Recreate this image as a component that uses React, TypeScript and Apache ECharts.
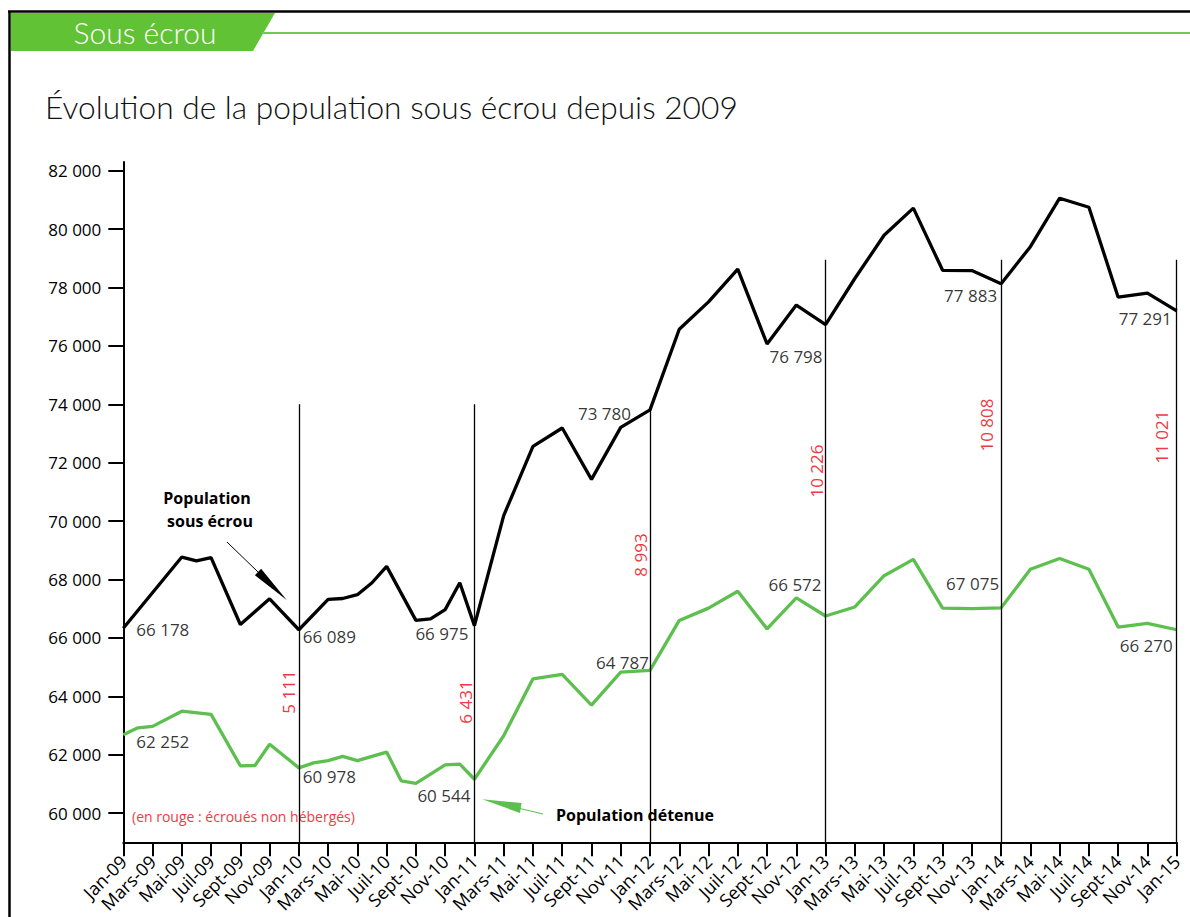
import React, { useEffect, useRef } from "react";
import * as echarts from "echarts";

// ---------- DATA ----------
const MONTH_NAMES = ["Jan", "Févr", "Mars", "Avr", "Mai", "Juin", "Juil", "Août", "Sept", "Oct", "Nov", "Déc"];
const YEARS = ["09", "10", "11", "12", "13", "14", "15"];
const months: string[] = [];
YEARS.forEach((y, yi) => {
  MONTH_NAMES.forEach((m, mi) => {
    if (yi === YEARS.length - 1 && mi > 0) return;
    months.push(`${m}-${y}`);
  });
});

// Population sous écrou (black), monthly, null where no vertex is drawn
const ecrouValues: (number | null)[] = [
  66330, null, null, null, 68770, 68640, 68750, null, 66460, null, 67340, null,
  66280, null, 67320, 67350, 67480, 67890, 68450, null, 66600, 66650, 66970, 67890,
  66420, null, 70190, null, 72560, null, 73190, null, 71430, null, 73210, null,
  73810, null, 76570, null, 77510, null, 78630, null, 76070, null, 77400, null,
  76730, null, 78310, null, 79790, null, 80720, null, 78590, null, 78580, null,
  78130, null, 79400, null, 81060, null, 80750, null, 77670, null, 77810, null,
  77200,
];

// Population détenue (green)
const detenueValues: (number | null)[] = [
  62680, 62920, 62970, null, 63490, null, 63380, null, 61620, 61630, 62360, null,
  61550, 61720, 61800, 61940, 61800, null, 62090, 61100, 61020, null, 61650, 61680,
  61160, null, 62650, null, 64600, null, 64750, null, 63700, null, 64830, null,
  64890, null, 66600, null, 67020, null, 67600, null, 66310, null, 67370, null,
  66750, null, 67060, null, 68130, null, 68690, null, 67020, null, 67000, null,
  67030, null, 68350, null, 68720, null, 68350, null, 66370, null, 66500, null,
  66280,
];

const labelMonths = ["Jan-09", "Jan-10", "Jan-11", "Jan-12", "Jan-13", "Jan-14", "Jan-15"];
const ecrouLabels = ["66 178", "66 089", "66 975", "73 780", "76 798", "77 883", "77 291"];
const detenueLabels = ["62 252", "60 978", "60 544", "64 787", "66 572", "67 075", "66 270"];
const nonHebergesLabels = ["5 111", "6 431", "8 993", "10 226", "10 808", "11 021"];
const separatorMonths = ["Jan-10", "Jan-11", "Jan-12", "Jan-13", "Jan-14", "Jan-15"];
const separatorTops = [74000, 74000, 73810, 78950, 78950, 78950];
const yTicks = [60000, 62000, 64000, 66000, 68000, 70000, 72000, 74000, 76000, 78000, 80000, 82000];

// ---------- STYLE ----------
const FONT = "'Open Sans', 'DejaVu Sans', sans-serif";
const TITLE_FONT = "Lato, 'Open Sans', sans-serif";
const GREEN = "#5cbf4e";
const RED = "#ee3a43";

const ecrouLabelPos: [number, number, string][] = [
  [13, 1, "left"], [4, 7, "left"], [-6, 8, "right"], [-19, 4, "right"],
  [-3, 32, "right"], [-4, 12, "right"], [-5, 8, "right"],
];
const detenueLabelPos: [number, number, string][] = [
  [13, 7, "left"], [4, 9, "left"], [-4, 16, "right"], [-1, -8, "right"],
  [-4, -32, "right"], [-2, -24, "right"], [-4, 16, "right"],
];
const redPos: [number, number][] = [
  [288, 692], [465, 702], [640, 555], [816, 471], [986, 425], [1161, 437],
];

const fmt = (v: number) => `${Math.floor(v / 1000)} ${String(v % 1000).padStart(3, "0")}`;

function labelItems(values: (number | null)[], texts: string[], pos: [number, number, string][]) {
  return labelMonths.map((m, i) => {
    const idx = months.indexOf(m);
    return {
      value: [idx, values[idx]],
      label: {
        show: true,
        position: "inside",
        offset: [pos[i][0], pos[i][1]],
        align: pos[i][2],
        verticalAlign: "middle",
        color: "#000",
        textBorderWidth: 0,
        fontSize: 17,
        fontFamily: FONT,
        formatter: texts[i],
      },
    };
  });
}

export default function App() {
  const ref = useRef<HTMLDivElement>(null);
  useEffect(() => {
    if (!ref.current) return;
    const chart = echarts.init(ref.current, null, { renderer: "svg" });

    const graphics: any[] = [
      // frame
      { type: "line", shape: { x1: 8, y1: 11.5, x2: 1190, y2: 11.5 }, style: { stroke: "#000", lineWidth: 2.5 } },
      { type: "line", shape: { x1: 9.5, y1: 11, x2: 9.5, y2: 917 }, style: { stroke: "#000", lineWidth: 2.5 } },
      // header banner
      { type: "polygon", shape: { points: [[11, 13], [275, 13], [253, 51], [11, 51]] }, style: { fill: "#62c236" } },
      { type: "line", shape: { x1: 262, y1: 33, x2: 1190, y2: 33 }, style: { stroke: "#74c655", lineWidth: 2 } },
      {
        type: "text", x: 145, y: 32,
        style: { text: "Sous écrou", fill: "#fff", font: `300 30px ${TITLE_FONT}`, textAlign: "center", textVerticalAlign: "middle" },
      },
      // title
      {
        type: "text", x: 45, y: 107,
        style: { text: "Évolution de la population sous écrou depuis 2009", fill: "#111", font: `300 31.7px ${TITLE_FONT}`, textAlign: "left", textVerticalAlign: "middle" },
      },
      // annotations
      {
        type: "text", x: 207, y: 498,
        style: { text: "Population", fill: "#000", font: `bold 16px ${FONT}`, textAlign: "center", textVerticalAlign: "middle" },
      },
      {
        type: "text", x: 210, y: 521,
        style: { text: "sous écrou", fill: "#000", font: `bold 16px ${FONT}`, textAlign: "center", textVerticalAlign: "middle" },
      },
      { type: "line", shape: { x1: 227, y1: 542, x2: 258, y2: 572 }, style: { stroke: "#000", lineWidth: 1 } },
      { type: "polygon", shape: { points: [[286.7, 600], [254.9, 575.2], [261.1, 568.8]] }, style: { fill: "#000" } },
      {
        type: "text", x: 556, y: 815,
        style: { text: "Population détenue", fill: "#000", font: `bold 16px ${FONT}`, textAlign: "left", textVerticalAlign: "middle" },
      },
      { type: "line", shape: { x1: 520, y1: 808.5, x2: 543, y2: 814 }, style: { stroke: GREEN, lineWidth: 1 } },
      { type: "polygon", shape: { points: [[482.3, 799.3], [521.5, 803], [520, 813]] }, style: { fill: GREEN } },
      {
        type: "text", x: 132, y: 816,
        style: { text: "(en rouge : écroués non hébergés)", fill: RED, font: `14px ${FONT}`, textAlign: "left", textVerticalAlign: "middle" },
      },
      ...nonHebergesLabels.map((t, i) => ({
        type: "text", x: redPos[i][0], y: redPos[i][1], rotation: Math.PI / 2,
        style: { text: t, fill: RED, font: `17px ${FONT}`, textAlign: "center", textVerticalAlign: "middle" },
      })),
    ];

    chart.setOption({
      animation: false,
      backgroundColor: "#fff",
      grid: { left: 123.3, right: 13.3, top: 162, bottom: 74.7, containLabel: false },
      xAxis: {
        type: "category",
        data: months,
        boundaryGap: false,
        axisLine: { lineStyle: { color: "#000", width: 2 } },
        axisTick: { interval: 1, length: 14, lineStyle: { color: "#000", width: 2 } },
        axisLabel: { interval: 1, rotate: 45, fontSize: 18, margin: 16, color: "#000", fontFamily: FONT },
        splitLine: { show: false },
      },
      yAxis: {
        type: "value",
        min: 59000,
        max: 82300,
        axisLine: { show: true, lineStyle: { color: "#000", width: 2 } },
        axisTick: { show: true, length: 15, lineStyle: { color: "#000", width: 2 }, customValues: yTicks },
        axisLabel: { customValues: yTicks, formatter: (v: number) => fmt(v), fontSize: 17, margin: 22, color: "#000", fontFamily: FONT },
        splitLine: { show: false },
      },
      series: [
        {
          name: "Population sous écrou",
          type: "line",
          data: ecrouValues,
          connectNulls: true,
          symbol: "none",
          lineStyle: { color: "#000", width: 3.3 },
          z: 3,
          markLine: {
            silent: true,
            symbol: "none",
            label: { show: false },
            lineStyle: { color: "#000", width: 1.3, type: "solid" },
            data: separatorMonths.map((m, i) => [
              { xAxis: m, yAxis: separatorTops[i] },
              { xAxis: m, yAxis: 59000 },
            ]),
          },
        },
        {
          name: "Population détenue",
          type: "line",
          data: detenueValues,
          connectNulls: true,
          symbol: "none",
          lineStyle: { color: GREEN, width: 3.3 },
          z: 3,
        },
        {
          type: "scatter",
          symbolSize: 0,
          silent: true,
          z: 5,
          label: { color: "#000", fontSize: 17, fontFamily: FONT },
          data: [
            ...labelItems(ecrouValues, ecrouLabels, ecrouLabelPos),
            ...labelItems(detenueValues, detenueLabels, detenueLabelPos),
          ],
        },
      ],
      graphic: graphics,
    });
    return () => chart.dispose();
  }, []);
  return <div ref={ref} style={{ position: "fixed", left: 0, top: 0, width: 1190, height: 917 }} />;
}
